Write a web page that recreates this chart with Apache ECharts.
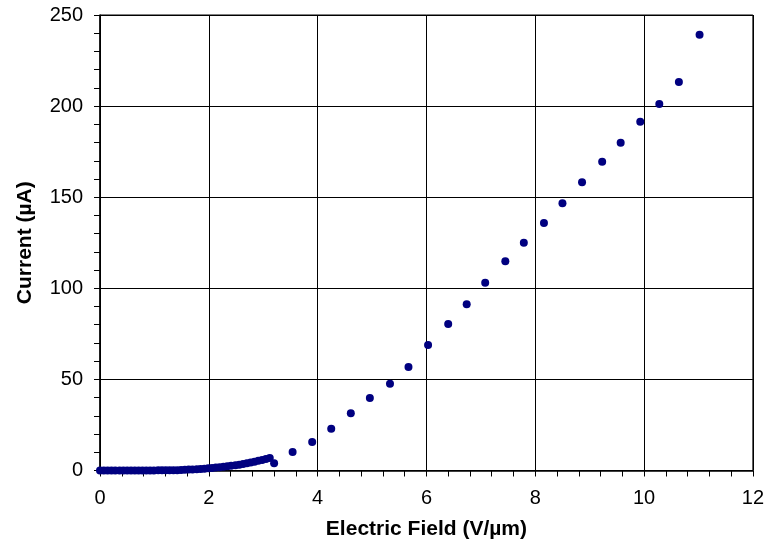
<!DOCTYPE html>
<html>
<head>
<meta charset="utf-8">
<script src="https://cdn.jsdelivr.net/npm/echarts@6/dist/echarts.min.js"></script>
<style>html,body{margin:0;padding:0;background:#fff}#c{width:767px;height:553px}</style>
</head>
<body>
<div id="c"></div>
<script>
// Electric field (V/µm) values
var fieldLow = [0.00,0.07,0.14,0.21,0.28,0.36,0.43,0.50,0.57,0.64,0.71,0.78,0.85,0.92,0.99,1.07,1.14,1.21,1.28,1.35,1.42,1.49,1.56,1.63,1.70,1.78,1.85,1.92,1.99,2.06,2.13,2.20,2.27,2.34,2.41,2.49,2.56,2.63,2.70,2.77,2.84,2.91,2.98,3.05,3.12];
var currentLow = [0,0,0,0,0,0,0,0,0,0,0,0,0.05,0.05,0.05,0.1,0.1,0.1,0.15,0.2,0.2,0.3,0.4,0.5,0.6,0.7,0.85,1.0,1.2,1.4,1.6,1.8,2.0,2.3,2.6,2.9,3.2,3.6,4.0,4.4,4.8,5.3,5.8,6.3,6.9];
var fieldHigh = [3.20,3.54,3.90,4.25,4.61,4.96,5.33,5.67,6.03,6.40,6.74,7.08,7.45,7.79,8.16,8.50,8.86,9.23,9.57,9.93,10.28,10.64,11.02];
var currentHigh = [4.0,10.2,15.6,22.9,31.4,39.8,47.6,56.8,68.9,80.4,91.2,103.1,114.8,125.0,135.8,146.7,158.2,169.5,179.9,191.4,201.2,213.2,239.2];
var xTitle = 'Electric Field (V/µm)';
var yTitle = 'Current (µA)';

var pts = [];
for (var i = 0; i < fieldLow.length; i++) pts.push([fieldLow[i], currentLow[i]]);
for (var j = 0; j < fieldHigh.length; j++) pts.push([fieldHigh[j], currentHigh[j]]);

var font = '"Liberation Sans", Arial, Helvetica, sans-serif';
var chart = echarts.init(document.getElementById('c'), null, {renderer: 'canvas'});
chart.setOption({
  animation: false,
  backgroundColor: '#ffffff',
  grid: {left: 100, right: 14, top: 15, bottom: 82.5, show: true, borderColor: '#000', borderWidth: 1, containLabel: false},
  xAxis: {
    type: 'value', min: 0, max: 12, interval: 2,
    name: xTitle, nameLocation: 'middle', nameGap: 48,
    nameTextStyle: {fontFamily: font, fontSize: 21, fontWeight: 'bold', color: '#000'},
    axisLine: {show: true, onZero: false, lineStyle: {color: '#000', width: 1.5}},
    axisTick: {show: true, length: 6, lineStyle: {color: '#000', width: 1}},
    minorTick: {show: true, splitNumber: 5, length: 6, lineStyle: {color: '#000', width: 1}},
    axisLabel: {fontFamily: font, fontSize: 20, color: '#000', margin: 18},
    splitLine: {show: true, lineStyle: {color: '#000', width: 1}}
  },
  yAxis: {
    type: 'value', min: 0, max: 250, interval: 50,
    name: yTitle, nameLocation: 'middle', nameGap: 64, nameRotate: 90,
    nameTextStyle: {fontFamily: font, fontSize: 21, fontWeight: 'bold', color: '#000'},
    axisLine: {show: true, onZero: false, lineStyle: {color: '#000', width: 1.5}},
    axisTick: {show: true, length: 6, lineStyle: {color: '#000', width: 1}},
    minorTick: {show: true, splitNumber: 5, length: 6, lineStyle: {color: '#000', width: 1}},
    axisLabel: {fontFamily: font, fontSize: 20, color: '#000', margin: 17},
    splitLine: {show: true, lineStyle: {color: '#000', width: 1}}
  },
  series: [{
    type: 'scatter',
    data: pts,
    symbol: 'circle',
    symbolSize: 8,
    itemStyle: {color: '#000080', opacity: 1},
    clip: false
  }]
});
</script>
</body>
</html>
